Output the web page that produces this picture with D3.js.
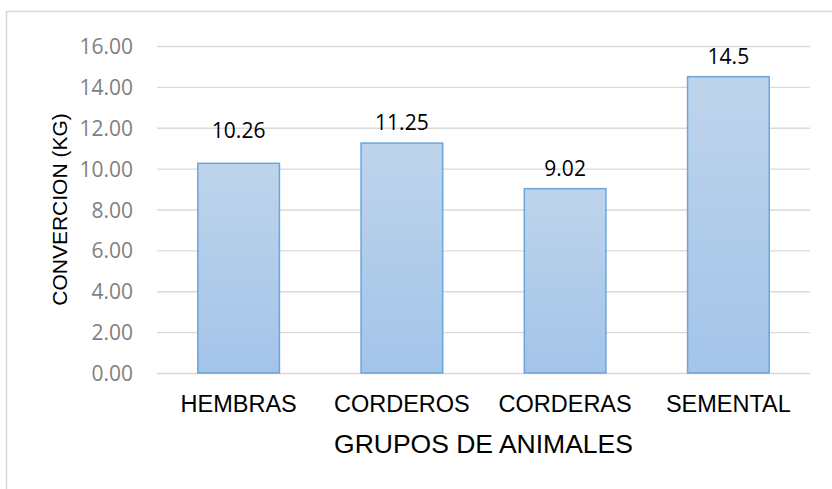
<!DOCTYPE html>
<html>
<head>
<meta charset="utf-8">
<script src="https://cdn.jsdelivr.net/npm/d3@7"></script>
<style>
  html, body { margin: 0; padding: 0; background: #fff; }
  svg { display: block; }
</style>
</head>
<body>
<svg id="chart" width="832" height="489"></svg>
<script>
// ---- data ----
const categories = ["HEMBRAS", "CORDEROS", "CORDERAS", "SEMENTAL"];
const values = [10.26, 11.25, 9.02, 14.5];
const valueLabels = ["10.26", "11.25", "9.02", "14.5"];
const yTicks = [0, 2, 4, 6, 8, 10, 12, 14, 16];
const xTitle = "GRUPOS DE ANIMALES";
const yTitle = "CONVERCION (KG)";

// ---- drawing ----
const svg = d3.select("#chart");
const W = 832, H = 489;
const plot = { left: 157, right: 810, top: 46, bottom: 373 };

const defs = svg.append("defs");
const grad = defs.append("linearGradient")
  .attr("id", "barGrad").attr("x1", 0).attr("y1", 0).attr("x2", 0).attr("y2", 1);
grad.append("stop").attr("offset", "0%").attr("stop-color", "#bed4ec");
grad.append("stop").attr("offset", "100%").attr("stop-color", "#a3c4e9");

// chart area border (top and left visible)
svg.append("path")
  .attr("d", `M6.5,${H} L6.5,11.5 L${W},11.5`)
  .attr("fill", "none").attr("stroke", "#d9d9d9").attr("stroke-width", 1.5);

const x = d3.scaleBand()
  .domain(categories)
  .range([plot.left, plot.right])
  .paddingInner(0.5)
  .paddingOuter(0.25);

const y = d3.scaleLinear()
  .domain([0, 16])
  .range([plot.bottom, plot.top]);

// gridlines via axis
const grid = svg.append("g")
  .attr("transform", `translate(${plot.left},0)`)
  .call(d3.axisRight(y).tickValues(yTicks).tickSize(plot.right - plot.left).tickFormat(""));
grid.select(".domain").remove();
grid.selectAll("line").attr("stroke", "#d9d9d9").attr("stroke-width", 1.3);

// y axis labels
const yAxis = svg.append("g")
  .attr("transform", `translate(${plot.left - 22},0)`)
  .call(d3.axisLeft(y).tickValues(yTicks).tickSize(0).tickPadding(2).tickFormat(d3.format(".2f")));
yAxis.select(".domain").remove();
yAxis.selectAll("text")
  .attr("fill", "#7f7f7f")
  .style("font-family", "'Open Sans', sans-serif")
  .style("font-size", "21px")
  .attr("dy", "0.36em");

// bars
svg.append("g").selectAll("rect")
  .data(categories)
  .join("rect")
  .attr("x", (d) => x(d))
  .attr("width", x.bandwidth())
  .attr("y", (d, i) => y(values[i]))
  .attr("height", (d, i) => y(0) - y(values[i]))
  .attr("fill", "url(#barGrad)")
  .attr("stroke", "#6aa5dc")
  .attr("stroke-width", 1.5);

// data labels
const lift = (d) => d === "HEMBRAS" ? 25 : 13;
svg.append("g").selectAll("text")
  .data(categories)
  .join("text")
  .attr("x", (d) => x(d) + x.bandwidth() / 2)
  .attr("y", (d, i) => y(values[i]) - lift(d))
  .attr("text-anchor", "middle")
  .attr("fill", "#000")
  .style("font-family", "'Open Sans', sans-serif")
  .style("font-size", "21px")
  .text((d, i) => valueLabels[i]);

// x axis category labels
const xAxis = svg.append("g")
  .attr("transform", `translate(0,${plot.bottom})`)
  .call(d3.axisBottom(x).tickSize(0).tickPadding(0));
xAxis.select(".domain").remove();
xAxis.selectAll("text")
  .attr("dy", null)
  .attr("y", 39)
  .attr("fill", "#000")
  .style("font-family", "'Liberation Sans', Arial, sans-serif")
  .style("font-size", "23.5px");

// axis titles
svg.append("text")
  .attr("x", (plot.left + plot.right) / 2)
  .attr("y", 453)
  .attr("text-anchor", "middle")
  .attr("fill", "#000")
  .style("font-family", "'Liberation Sans', Arial, sans-serif")
  .style("font-size", "26.5px")
  .text(xTitle);

svg.append("text")
  .attr("transform", `translate(67,${(plot.top + plot.bottom) / 2}) rotate(-90)`)
  .attr("text-anchor", "middle")
  .attr("fill", "#000")
  .style("font-family", "'Liberation Sans', Arial, sans-serif")
  .style("font-size", "21px")
  .text(yTitle);
</script>
</body>
</html>
